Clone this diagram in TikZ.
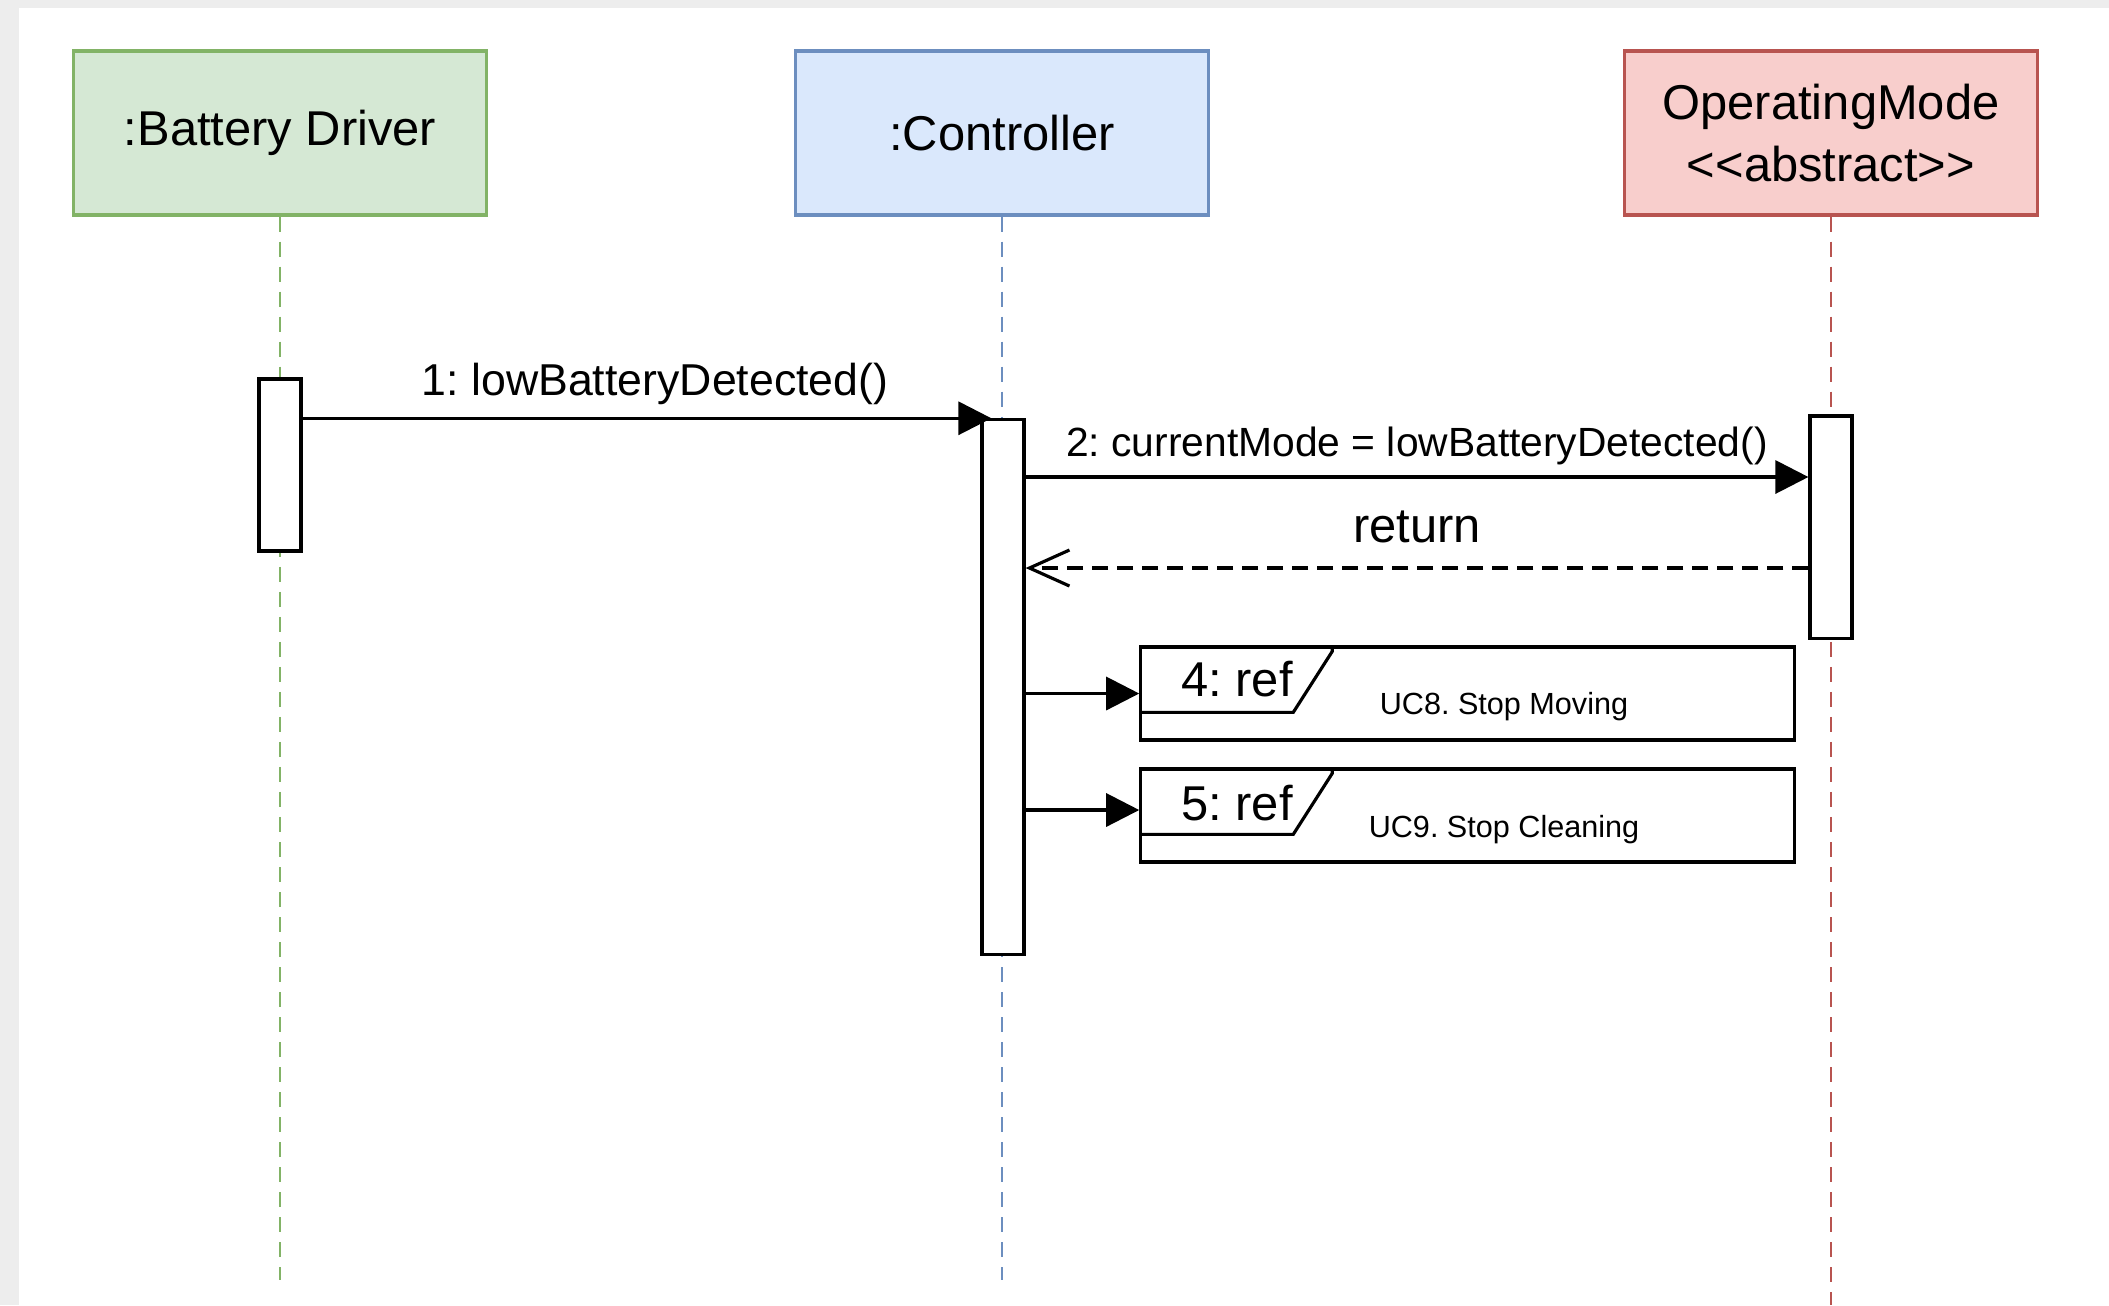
\documentclass[tikz,border=0pt]{standalone}
\usepackage{fontspec}
\setmainfont{Liberation Sans}
\usetikzlibrary{shapes,arrows.meta,positioning}
\frenchspacing
\definecolor{bdfill}{HTML}{D5E8D4}
\definecolor{bdline}{HTML}{82B366}
\definecolor{ctfill}{HTML}{DAE8FC}
\definecolor{ctline}{HTML}{6C8EBF}
\definecolor{omfill}{HTML}{F8CECC}
\definecolor{omline}{HTML}{B85450}
\definecolor{pagegray}{HTML}{EDEDED}

\begin{document}
\begin{tikzpicture}[x=0.01cm, y=-0.01cm,
    head/.style={draw, line width=0.9pt, minimum width=4.12cm, minimum height=1.64cm, align=center, font=\fontsize{13.9}{17.6}\selectfont},
    life/.style={line width=0.6pt, dash pattern=on 0.15cm off 0.1cm},
    act/.style={draw, fill=white, line width=0.9pt, minimum width=0.42cm, inner sep=0pt},
    msg/.style={line width=0.9pt, -{Triangle[length=0.33cm, width=0.33cm]}},
    ret/.style={line width=0.9pt, dash pattern=on 0.16cm off 0.09cm, -{Straight Barb[length=0.4cm, width=0.36cm]}},
    refbox/.style={draw, line width=0.9pt, minimum width=6.53cm, minimum height=0.93cm, inner sep=0pt},
    lbl/.style={inner sep=0pt}]
            \fill[pagegray] (0,0) rectangle (2109,1305);
            \fill[white] (19,8) rectangle (2109,1305);
            \useasboundingbox (0,0) rectangle (2109,1305);

            \node[head, fill=bdfill, draw=bdline] (bd) at (280,133) {:Battery Driver};
            \node[head, fill=ctfill, draw=ctline] (ct) at (1002,133) {:Controller};
            \node[head, fill=omfill, draw=omline] (om) at (1831,133) {OperatingMode\\<{}<abstract>{}>};

            \coordinate (bdend) at (280,1280);
            \coordinate (ctend) at (1002,1280);
            \coordinate (omend) at (1831,1305);
            \draw[life, bdline] (bd) -- (bdend);
            \draw[life, ctline] (ct) -- (ctend);
            \draw[life, omline] (om) -- (omend);

            \node[act, minimum height=1.72cm] (bdact) at (280,465) {};
            \node[act, minimum height=5.34cm] (ctact) at (1003,687) {};
            \node[act, minimum height=2.22cm] (omact) at (1831,527) {};

            \coordinate (m2) at (0,477);
            \coordinate (m3) at (0,568);
            \coordinate (m5) at (0,810);

            \draw[msg] (bdact.east |- ctact.north) -- ([xshift=0.11cm]ctact.north west)
                node[lbl, midway, above=0.12cm, xshift=0.08cm, font=\fontsize{12.7}{15}\selectfont] {1: lowBatteryDetected()};
            \draw[msg] (ctact.east |- m2) -- (omact.west |- m2)
                node[lbl, midway, above=0.1cm, font=\fontsize{11.6}{14}\selectfont] {2: currentMode = lowBatteryDetected()};
            \draw[ret] (omact.west |- m3) -- (ctact.east |- m3)
                node[lbl, midway, above=0.23cm, font=\fontsize{13.9}{16}\selectfont] {return};

            \node[refbox] (ref4) at (1467.5,693.5) {};
            \draw[line width=0.9pt] (ref4.north west) ++(193,0) -- ++(0,6) -- ++(-39,61) -- ++(-154,0);
            \node[lbl, font=\fontsize{13.9}{16}\selectfont] (tag4) at (1237,679) {4: ref};
            \node[lbl, font=\fontsize{8.7}{10}\selectfont] (uc8) at (1504,707) {UC8. Stop Moving};

            \node[refbox] (ref5) at (1467.5,815.5) {};
            \draw[line width=0.9pt] (ref5.north west) ++(193,0) -- ++(0,6) -- ++(-39,61) -- ++(-154,0);
            \node[lbl, font=\fontsize{13.9}{16}\selectfont] (tag5) at (1237,803) {5: ref};
            \node[lbl, font=\fontsize{8.7}{10}\selectfont] (uc9) at (1504,830) {UC9. Stop Cleaning};

            \draw[msg] (ctact.east |- ref4) -- (ref4.west);
            \draw[msg] (ctact.east |- m5) -- (ref5.west |- m5);
        \end{tikzpicture}
\end{document}
